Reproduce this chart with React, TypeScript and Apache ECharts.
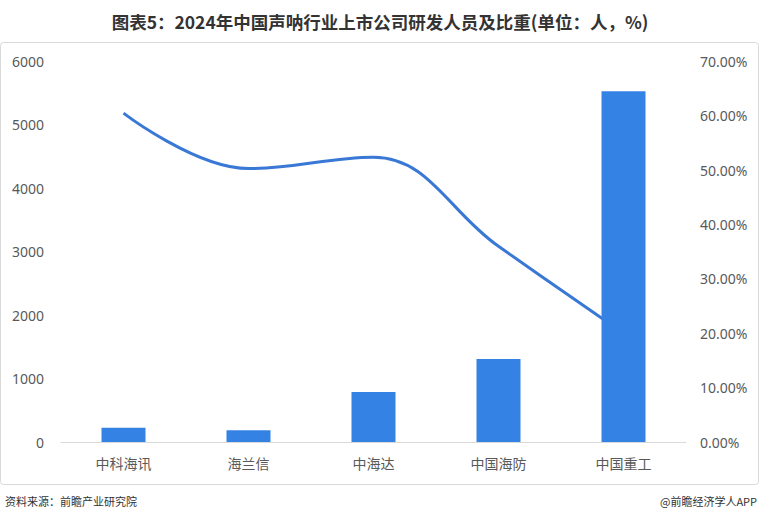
import React, { useEffect, useRef } from "react";
import * as echarts from "echarts";

const categories = ["中科海讯", "海兰信", "中海达", "中国海防", "中国重工"];
const staffCounts = [225, 185, 790, 1310, 5530];
const staffShares = [60.5, 50.3, 52.4, 36.0, 20.0];
const titleText = "图表5：2024年中国声呐行业上市公司研发人员及比重(单位：人，%)";
const sourceText = "资料来源：前瞻产业研究院";
const brandText = "@前瞻经济学人APP";

export default function App() {
  const ref = useRef<HTMLDivElement>(null);
  useEffect(() => {
    document.body.style.margin = "0";
    const chart = echarts.init(ref.current!, null, { renderer: "svg" });
    const font = "'Noto Sans', 'Noto Sans CJK SC', sans-serif";
    chart.setOption({
      animation: false,
      backgroundColor: "#ffffff",
      textStyle: { fontFamily: font },
      title: {
        text: titleText,
        left: "center",
        top: 8,
        textStyle: {
          fontFamily: "'Noto Sans CJK SC', sans-serif",
          fontSize: 17.5,
          fontWeight: "bold",
          color: "#333333",
        },
      },
      graphic: [
        {
          type: "rect",
          silent: true,
          z: -10,
          shape: { x: 0.5, y: 42.5, width: 758, height: 442, r: 3 },
          style: { fill: "none", stroke: "#d9d9d9", lineWidth: 1 },
        },
        {
          type: "text",
          left: 5,
          top: 495,
          style: {
            text: sourceText,
            fontSize: 11,
            fill: "#333333",
            fontFamily: "'Noto Sans CJK SC', sans-serif",
          },
        },
        {
          type: "text",
          right: 3,
          top: 495,
          style: {
            text: brandText,
            fontSize: 11,
            fill: "#333333",
            fontFamily: "'Noto Sans CJK SC', sans-serif",
          },
        },
      ],
      grid: { left: 61, right: 74, top: 61.5, bottom: 82, containLabel: false },
      xAxis: {
        type: "category",
        data: categories,
        axisLine: { lineStyle: { color: "#d9d9d9" } },
        axisTick: { show: false },
        axisLabel: {
          color: "#595959",
          fontSize: 14,
          margin: 14,
          fontFamily: "'Noto Sans CJK SC', sans-serif",
        },
      },
      yAxis: [
        {
          type: "value",
          min: 0,
          max: 6000,
          interval: 1000,
          splitLine: { show: false },
          axisLine: { show: false },
          axisTick: { show: false },
          axisLabel: {
            color: "#595959",
            fontSize: 14,
            margin: 17,
            formatter: (v: number) => String(v),
          },
        },
        {
          type: "value",
          min: 0,
          max: 70,
          interval: 10,
          position: "right",
          splitLine: { show: false },
          axisLine: { show: false },
          axisTick: { show: false },
          axisLabel: {
            color: "#595959",
            fontSize: 14,
            margin: 14,
            formatter: (v: number) => v.toFixed(2) + "%",
          },
        },
      ],
      series: [
        {
          name: "研发人员占比",
          type: "line",
          yAxisIndex: 1,
          data: staffShares,
          smooth: 0.4,
          showSymbol: false,
          z: 1,
          lineStyle: { color: "#3a78d6", width: 3 },
          itemStyle: { color: "#3a78d6" },
        },
        {
          name: "研发人员数量",
          type: "bar",
          yAxisIndex: 0,
          data: staffCounts,
          barWidth: 44,
          z: 3,
          itemStyle: { color: "#3483e4" },
        },
      ],
    });
    return () => chart.dispose();
  }, []);
  return (
    <div
      ref={ref}
      style={{ position: "absolute", left: 0, top: 0, width: 760, height: 524 }}
    />
  );
}
